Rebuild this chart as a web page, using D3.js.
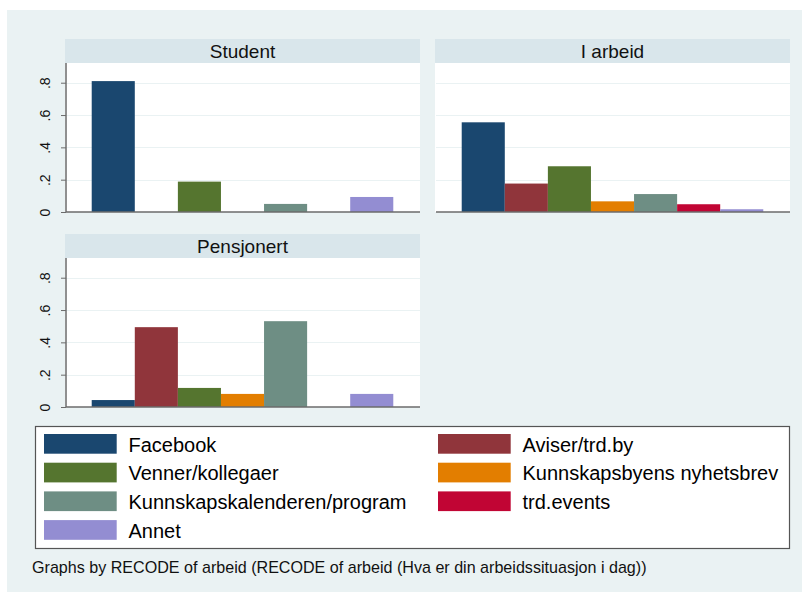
<!DOCTYPE html>
<html>
<head>
<meta charset="utf-8">
<script src="https://d3js.org/d3.v7.min.js"></script>
<style>
    html, body { margin: 0; padding: 0; background: #fff; }
    svg { display: block; font-family: Arial, "Liberation Sans", sans-serif; }
</style>
</head>
<body>
<div id="chart"></div>
<script>
    // data
    var categories = ["Facebook", "Aviser/trd.by", "Venner/kollegaer", "Kunnskapsbyens nyhetsbrev",
                      "Kunnskapskalenderen/program", "trd.events", "Annet"];
    var groups = ["Student", "I arbeid", "Pensjonert"];
    var student    = [0.81, 0, 0.188, 0, 0.05, 0, 0.093];
    var iArbeid    = [0.555, 0.176, 0.283, 0.066, 0.111, 0.048, 0.017];
    var pensjonert = [0.043, 0.494, 0.118, 0.081, 0.531, 0, 0.081];
    var yTicks = [0, 0.2, 0.4, 0.6, 0.8];
    var yTickLabels = ["0", ".2", ".4", ".6", ".8"];
    var colors = ["#1a476f", "#90353b", "#55752f", "#e37e00", "#6e8e84", "#c10534", "#938dd2"];
    var footnote = "Graphs by RECODE of arbeid (RECODE of arbeid (Hva er din arbeidssituasjon i dag))";

    var values = [student, iArbeid, pensjonert];

    var W = 802, H = 592;
    var svg = d3.select("#chart").append("svg").attr("width", W).attr("height", H);

    svg.append("rect").attr("x", 7).attr("y", 10).attr("width", W - 7).attr("height", H - 10)
        .attr("fill", "#eaf2f3");

    // panel boxes: left, top of strip
    var panels = [
        { x: 65, y: 39, axis: true },
        { x: 435, y: 39, axis: false },
        { x: 65, y: 234, axis: true }
    ];
    var pw = 355, stripH = 24, ph = 149;

    var x = d3.scaleBand().domain(categories).range([0, pw]).paddingInner(0).paddingOuter(0.62);
    var y = d3.scaleLinear().domain([0, 0.922]).range([ph, 0]);

    panels.forEach(function(p, gi) {
        var g = svg.append("g").attr("transform", "translate(" + p.x + "," + p.y + ")");
        g.append("rect").attr("width", pw).attr("height", stripH).attr("fill", "#d9e6eb");
        g.append("text").attr("x", pw / 2).attr("y", stripH / 2 + 7)
            .attr("text-anchor", "middle").attr("font-size", 19).attr("fill", "#111")
            .text(groups[gi]);

        var plot = g.append("g").attr("transform", "translate(0," + stripH + ")");
        plot.append("rect").attr("width", pw).attr("height", ph).attr("fill", "#fff");

        plot.selectAll(".grid").data(yTicks.slice(1)).enter().append("line")
            .attr("x1", 1).attr("x2", pw)
            .attr("y1", function(d) { return Math.round(y(d)) + 0.5; })
            .attr("y2", function(d) { return Math.round(y(d)) + 0.5; })
            .attr("stroke", "#eaf2f3").attr("stroke-width", 1.2);

        var rows = values[gi].map(function(v, i) { return { cat: categories[i], v: v, c: colors[i] }; })
            .filter(function(d) { return d.v > 0; });

        plot.selectAll(".bar").data(rows).enter().append("rect")
            .attr("x", function(d) { return x(d.cat); })
            .attr("y", function(d) { return y(d.v); })
            .attr("width", x.bandwidth())
            .attr("height", function(d) { return ph - y(d.v); })
            .attr("fill", function(d) { return d.c; });

        // baseline
        plot.append("line").attr("x1", 1).attr("x2", pw).attr("y1", ph).attr("y2", ph)
            .attr("stroke", "#6b6b6b").attr("stroke-width", 1.5);

        if (p.axis) {
            var yAxis = d3.axisLeft(y).tickValues(yTicks)
                .tickFormat(function(d, i) { return yTickLabels[i]; })
                .tickSize(5).tickPadding(0);
            var ax = plot.append("g").attr("transform", "translate(1,0)").call(yAxis);
            ax.select(".domain").attr("stroke", "#6b6b6b").attr("stroke-width", 1.5)
                .attr("d", "M0,0V" + ph);
            ax.selectAll(".tick line").attr("stroke", "#6b6b6b");
            ax.selectAll(".tick text")
                .attr("font-size", 14).attr("fill", "#111").attr("font-family", "Arial, 'Liberation Sans', sans-serif")
                .attr("text-anchor", "middle").attr("dy", null).attr("x", null)
                .attr("transform", "translate(-16,0) rotate(-90)");
        }
    });

    // legend
    var lg = svg.append("g").attr("transform", "translate(35,426)");
    lg.append("rect").attr("x", 0.5).attr("y", 0.5).attr("width", 754).attr("height", 122)
        .attr("fill", "#fff").attr("stroke", "#555").attr("stroke-width", 1.2);
    var item = lg.selectAll(".item").data(categories).enter().append("g")
        .attr("transform", function(d, i) {
            return "translate(" + (i % 2 === 0 ? 9 : 403) + "," + (8 + Math.floor(i / 2) * 28.7) + ")";
        });
    item.append("rect").attr("width", 72.7).attr("height", 19.7)
        .attr("fill", function(d, i) { return colors[i]; });
    item.append("text").attr("x", 84.5).attr("y", 17.5).attr("font-size", 20).attr("fill", "#000")
        .text(function(d) { return d; });

    svg.append("text").attr("x", 32).attr("y", 573).attr("font-size", 16.1).attr("fill", "#111")
        .text(footnote);
</script>
</body>
</html>
